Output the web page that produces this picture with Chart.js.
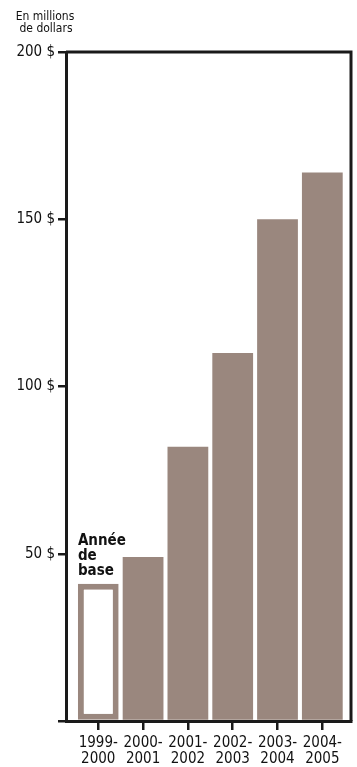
<!DOCTYPE html>
<html lang="fr">
<head>
<meta charset="UTF-8">
<title>En millions de dollars</title>
<script src="https://cdn.jsdelivr.net/npm/chart.js"></script>
<style>
  body { margin: 0; background: #fff; }
  #wrap { width: 357px; height: 767px; position: relative; }
</style>
</head>
<body>
<div id="wrap"><canvas id="chart"></canvas></div>
<script>
// donnees
const annees = [['1999-', '2000'], ['2000-', '2001'], ['2001-', '2002'], ['2002-', '2003'], ['2003-', '2004'], ['2004-', '2005']];
const montants = [41, 49, 82, 110, 150, 164];
const ticksY = [0, 50, 100, 150, 200];
const etiquetteBase = ['Année', 'de', 'base'];
const titreAxe = ['En millions', 'de dollars'];

const brun = '#9a877e';
const noir = '#1a1a1a';
const police = "'DejaVu Sans Condensed', 'Liberation Sans Narrow', Arial, sans-serif";

// cadre du haut et de droite + textes
const cadre = {
  id: 'cadre',
  afterDraw(chart) {
    const { ctx, chartArea: a } = chart;
    ctx.save();
    ctx.strokeStyle = noir;
    ctx.lineWidth = 3;
    ctx.beginPath();
    ctx.moveTo(a.left, a.top);
    ctx.lineTo(a.right, a.top);
    ctx.lineTo(a.right, a.bottom);
    ctx.stroke();

    ctx.fillStyle = '#111';
    ctx.font = '12px ' + police;
    ctx.textAlign = 'center';
    ctx.fillText(titreAxe[0], 45, 20);
    ctx.fillText(titreAxe[1], 46, 32);

    // "Annee de base" au-dessus de la premiere barre
    const bar = chart.getDatasetMeta(0).data[0];
    ctx.font = 'bold 15px ' + police;
    ctx.textAlign = 'left';
    const x0 = bar.x - bar.width / 2;
    let y = bar.y - 9;
    for (let i = etiquetteBase.length - 1; i >= 0; i--) {
      ctx.fillText(etiquetteBase[i], x0, y);
      y -= 15;
    }
    ctx.restore();
  }
};

new Chart(document.getElementById('chart'), {
  type: 'bar',
  data: {
    datasets: [{
      data: montants.map((v, i) => ({ x: i, y: v })),
      backgroundColor: montants.map((v, i) => i === 0 ? '#fff' : brun),
      borderColor: brun,
      borderWidth: montants.map((v, i) => i === 0 ? 6 : 0),
      borderSkipped: false,
      categoryPercentage: 1,
      barPercentage: 0.91
    }]
  },
  options: {
    responsive: true,
    maintainAspectRatio: false,
    animation: false,
    layout: { padding: { top: 52, right: 6, left: 0, bottom: 0 } },
    plugins: { legend: { display: false }, tooltip: { enabled: false } },
    scales: {
      x: {
        type: 'linear',
        offset: false,
        min: -0.72,
        max: 5.64,
        afterBuildTicks: s => { s.ticks = annees.map((a, i) => ({ value: i })); },
        afterFit: s => { s.height = 46; },
        border: { color: noir, width: 3 },
        grid: { offset: false, drawOnChartArea: false, color: noir, tickColor: noir, tickLength: 9, lineWidth: 2.5 },
        ticks: {
          color: '#111',
          padding: 5,
          font: { family: police, size: 15, lineHeight: 1.07 },
          maxRotation: 0,
          autoSkip: false,
          callback: v => annees[v] || ''
        }
      },
      y: {
        min: 0,
        max: 200,
        afterBuildTicks: s => { s.ticks = ticksY.map(v => ({ value: v })); },
        afterFit: s => { s.width = 66; },
        border: { color: noir, width: 3 },
        grid: { drawOnChartArea: false, color: noir, tickColor: noir, tickLength: 8, lineWidth: 2.5 },
        ticks: {
          color: '#111',
          padding: 3,
          font: { family: police, size: 15 },
          callback: v => v === 0 ? '' : v + ' $'
        }
      }
    }
  },
  plugins: [cadre]
});
</script>
</body>
</html>
